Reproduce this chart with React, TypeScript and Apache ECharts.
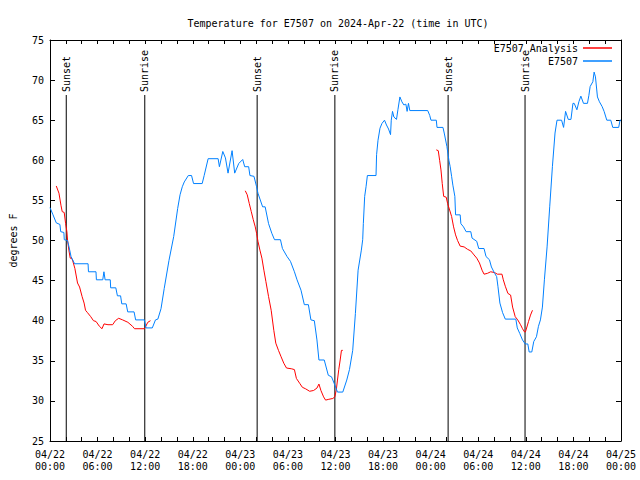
import React, { useEffect, useRef } from "react";
import * as echarts from "echarts";

const FONT = "DejaVu Sans Mono";

const titleText = "Temperature for E7507 on 2024-Apr-22 (time in UTC)";
const yAxisName = "degrees F";

// x values are hours since 2024-04-22 00:00 UTC
const xTickLabels = [
  "04/22\n00:00", "04/22\n06:00", "04/22\n12:00", "04/22\n18:00",
  "04/23\n00:00", "04/23\n06:00", "04/23\n12:00", "04/23\n18:00",
  "04/24\n00:00", "04/24\n06:00", "04/24\n12:00", "04/24\n18:00",
  "04/25\n00:00",
];

const sunHours = [2.05, 11.95, 26.12, 35.92, 50.2, 59.9];
const sunNames = ["Sunset", "Sunrise", "Sunset", "Sunrise", "Sunset", "Sunrise"];

const observed: number[][] = [
  [0.0, 54.1], [0.38, 53.2], [0.79, 52.2], [1.25, 52.0], [1.35, 51.1], [1.75, 51.0],
  [1.8, 50.1], [2.2, 50.0], [2.4, 49.2], [2.65, 48.0], [3.1, 47.1], [4.8, 47.1],
  [4.85, 46.1], [5.8, 46.1], [5.85, 45.1], [6.65, 45.1], [6.8, 46.1], [6.95, 45.1],
  [7.6, 45.1], [7.65, 44.1], [8.3, 44.1], [8.5, 43.1], [8.9, 43.1], [9.05, 42.1],
  [9.6, 42.1], [9.8, 41.1], [10.6, 41.1], [10.8, 40.1], [11.9, 40.1], [12.1, 39.1],
  [12.9, 39.1], [13.3, 40.1], [13.6, 40.2], [14.0, 41.5], [14.4, 44.0], [15.0, 47.5],
  [15.6, 50.5], [16.1, 54.0], [16.4, 55.7], [16.68, 56.7], [16.93, 57.3], [17.44, 58.1],
  [17.85, 58.1], [18.1, 57.1], [19.19, 57.1], [19.44, 58.1], [19.94, 60.2], [21.2, 60.2],
  [21.36, 59.2], [21.79, 61.1], [22.12, 60.3], [22.45, 58.4], [22.96, 61.2], [23.29, 58.4],
  [23.8, 59.6], [24.3, 60.1], [24.55, 59.2], [25.05, 59.2], [25.21, 58.1], [25.72, 58.0],
  [26.05, 56.7], [26.22, 55.9], [26.81, 54.2], [27.13, 54.2], [27.56, 52.1], [27.97, 50.9],
  [28.31, 50.1], [29.06, 50.1], [29.31, 49.0], [29.89, 48.0], [30.32, 47.4], [30.82, 46.1],
  [31.15, 45.1], [31.65, 43.8], [32.07, 42.0], [32.58, 42.0], [32.9, 40.1], [33.33, 40.0],
  [33.66, 37.6], [33.91, 35.1], [34.58, 35.1], [35.09, 33.2], [35.5, 33.0], [35.91, 32.0],
  [36.25, 31.1], [36.92, 31.1], [37.42, 32.6], [37.76, 33.9], [38.17, 36.3], [38.51, 40.9],
  [38.85, 46.3], [39.26, 48.8], [39.43, 50.1], [39.51, 52.1], [39.68, 55.5], [39.85, 56.7],
  [40.02, 58.1], [41.11, 58.1], [41.18, 60.7], [41.36, 62.5], [41.61, 64.0], [41.86, 64.6],
  [42.18, 65.0], [42.43, 64.4], [42.69, 63.9], [42.94, 63.2], [43.03, 65.0], [43.19, 66.1],
  [43.36, 65.4], [43.69, 65.1], [43.87, 66.3], [44.12, 67.9], [44.37, 67.3], [44.62, 66.9],
  [44.87, 67.0], [45.03, 66.1], [45.2, 67.1], [45.37, 66.2], [47.63, 66.2], [47.88, 65.6],
  [48.04, 65.0], [48.71, 65.0], [48.8, 64.1], [49.55, 64.1], [49.71, 63.4], [50.05, 61.7],
  [50.3, 60.0], [50.46, 59.2], [50.64, 58.0], [50.8, 56.9], [51.05, 55.5], [51.14, 53.2],
  [51.72, 53.2], [51.81, 52.1], [52.14, 51.7], [52.47, 51.1], [53.06, 51.1], [53.22, 50.3],
  [53.81, 49.9], [54.06, 49.0], [54.73, 49.0], [54.98, 48.0], [55.41, 47.6], [55.66, 46.7],
  [56.07, 45.9], [56.32, 45.5], [56.48, 44.3], [56.73, 42.2], [57.07, 41.0], [57.41, 40.2],
  [58.74, 40.2], [58.92, 39.1], [59.24, 38.4], [59.58, 37.6], [59.92, 37.1], [60.25, 37.1],
  [60.42, 36.1], [60.75, 36.1], [61.0, 37.4], [61.34, 38.0], [61.59, 39.3], [61.84, 40.1],
  [62.09, 41.7], [62.34, 45.1], [62.68, 49.2], [63.01, 54.2], [63.35, 59.2], [63.68, 63.4],
  [63.93, 65.0], [64.51, 65.0], [64.76, 64.1], [65.01, 66.1], [65.35, 65.1], [65.69, 65.1],
  [65.94, 67.1], [66.1, 67.1], [66.44, 66.3], [66.69, 67.3], [66.94, 68.0], [67.27, 67.1],
  [67.77, 67.1], [67.95, 68.1], [68.11, 69.2], [68.45, 69.8], [68.61, 71.0], [68.78, 70.4],
  [69.03, 67.9], [69.28, 67.3], [69.62, 66.7], [69.87, 66.1], [70.21, 65.0], [70.71, 65.0],
  [70.96, 64.1], [71.71, 64.1], [71.88, 65.0], [72.0, 65.0],
];

const analysis1: number[][] = [
  [0.79, 56.8], [1.13, 55.9], [1.38, 54.4], [1.54, 53.6], [1.79, 53.5], [1.97, 52.1],
  [2.13, 51.1], [2.22, 50.0], [2.38, 48.8], [2.55, 47.8], [2.8, 47.7], [3.14, 46.5],
  [3.47, 44.7], [3.73, 44.2], [4.05, 43.0], [4.3, 42.2], [4.48, 41.3], [4.73, 41.0],
  [5.14, 40.5], [5.48, 40.0], [5.81, 39.9], [6.23, 39.3], [6.56, 39.0], [6.81, 39.6],
  [7.31, 39.5], [7.9, 39.5], [8.24, 40.0], [8.66, 40.3], [9.16, 40.1], [9.82, 39.8],
  [10.41, 39.3], [10.66, 39.0], [11.92, 39.0], [12.33, 39.8], [12.67, 40.0],
];

const analysis2: number[][] = [
  [24.62, 56.2], [24.87, 55.7], [25.13, 54.6], [25.38, 53.6], [25.63, 52.6], [25.88, 51.7],
  [26.05, 50.9], [26.22, 49.9], [26.47, 48.8], [26.72, 47.8], [26.97, 46.3], [27.22, 44.9],
  [27.56, 43.0], [27.89, 41.3], [28.22, 38.8], [28.47, 37.2], [28.81, 36.3], [29.14, 35.5],
  [29.48, 34.7], [29.82, 34.1], [30.48, 34.0], [30.82, 33.9], [31.07, 32.8], [31.48, 32.2],
  [31.82, 31.7], [32.24, 31.5], [32.74, 31.2], [33.24, 31.3], [33.66, 31.6], [33.91, 32.1],
  [34.16, 31.3], [34.5, 30.5], [34.75, 30.1], [35.16, 30.2], [35.66, 30.3], [35.91, 30.5],
  [36.09, 31.3], [36.25, 32.6], [36.41, 33.9], [36.59, 35.1], [36.75, 36.3], [36.92, 36.3],
];

const analysis3: number[][] = [
  [48.71, 61.3], [48.96, 61.2], [49.13, 60.0], [49.3, 58.8], [49.46, 57.1], [49.64, 55.5],
  [49.96, 55.4], [50.14, 54.6], [50.39, 53.8], [50.64, 53.0], [50.89, 51.7], [51.14, 50.7],
  [51.39, 50.0], [51.72, 49.3], [52.22, 49.2], [52.65, 48.9], [53.06, 48.7], [53.47, 48.2],
  [53.81, 47.8], [54.15, 47.2], [54.48, 46.3], [54.73, 45.8], [55.15, 45.9], [55.57, 46.1],
  [56.07, 46.0], [56.41, 45.8], [56.99, 45.8], [57.16, 45.1], [57.41, 44.3], [57.74, 43.4],
  [58.08, 43.2], [58.33, 41.7], [58.66, 40.5], [58.98, 40.1], [59.33, 39.5], [59.58, 39.0],
  [59.83, 38.6], [59.95, 38.6], [60.34, 39.9], [60.59, 40.7], [60.84, 41.3],
];

export default function App() {
  const ref = useRef<HTMLDivElement>(null);

  useEffect(() => {
    if (!ref.current) return;
    const chart = echarts.init(ref.current, null, { renderer: "svg" });
    const txt = { fontFamily: FONT, fontSize: 10, color: "#000" };
    const axisCommonX = {
      type: "value",
      min: 0,
      max: 72,
      interval: 2,
      splitLine: { show: false },
      axisLine: { show: true, onZero: false, lineStyle: { color: "#000", width: 1 } },
      axisTick: { show: true, inside: true, length: 4, lineStyle: { color: "#000" } },
    };
    const axisCommonY = {
      type: "value",
      min: 25,
      max: 75,
      interval: 5,
      splitLine: { show: false },
      axisLine: { show: true, onZero: false, lineStyle: { color: "#000", width: 1 } },
      axisTick: { show: true, inside: true, length: 5, lineStyle: { color: "#000" } },
    };
    const redLine = (data: number[][]) => ({
      type: "line",
      name: "E7507 Analysis",
      data,
      showSymbol: false,
      symbol: "none",
      color: "#ff0000",
      lineStyle: { color: "#ff0000", width: 1 },
      z: 3,
    });
    chart.setOption({
      animation: false,
      backgroundColor: "#fff",
      title: {
        text: titleText,
        left: 333,
        textAlign: "center",
        top: 13,
        textStyle: { ...txt, fontWeight: "normal" },
      },
      legend: [
        {
          data: ["E7507 Analysis"],
          right: 28,
          top: 43,
          padding: 0,
          align: "right",
          icon: "rect",
          itemWidth: 29,
          itemHeight: 1.5,
          textStyle: txt,
        },
        {
          data: ["E7507"],
          right: 28,
          top: 56,
          padding: 0,
          align: "right",
          icon: "rect",
          itemWidth: 29,
          itemHeight: 1.5,
          textStyle: txt,
        },
      ],
      grid: { left: 47, right: 19, top: 40, bottom: 39, containLabel: false },
      xAxis: [
        {
          ...axisCommonX,
          position: "bottom",
          axisLabel: {
            ...txt,
            margin: 7,
            lineHeight: 12.5,
            showMinLabel: true,
            showMaxLabel: true,
            formatter: (v: number) => (v % 6 === 0 ? xTickLabels[v / 6] : ""),
          },
        },
        { ...axisCommonX, position: "top", axisLabel: { show: false } },
      ],
      yAxis: [
        {
          ...axisCommonY,
          position: "left",
          name: yAxisName,
          nameLocation: "middle",
          nameRotate: 90,
          nameGap: 32,
          nameTextStyle: txt,
          axisLabel: { ...txt, margin: 6 },
        },
        { ...axisCommonY, position: "right", axisLabel: { show: false } },
      ],
      series: [
        {
          type: "custom",
          name: "sun",
          xAxisIndex: 0,
          yAxisIndex: 0,
          data: sunHours.map((h, i) => [h, i]),
          z: 1,
          clip: false,
          renderItem: (params: any, api: any) => {
            const h = api.value(0);
            const idx = api.value(1);
            const bottom = api.coord([h, 25]);
            const top = api.coord([h, 75]);
            const lineTop = top[1] + 55;
            return {
              type: "group",
              children: [
                {
                  type: "line",
                  shape: { x1: bottom[0], y1: bottom[1], x2: bottom[0], y2: lineTop },
                  style: { stroke: "#000", lineWidth: 1 },
                },
                {
                  type: "text",
                  x: bottom[0],
                  y: lineTop - 3,
                  rotation: Math.PI / 2,
                  style: {
                    text: sunNames[idx],
                    fontFamily: FONT,
                    fontSize: 10,
                    fill: "#000",
                    align: "left",
                    verticalAlign: "middle",
                  },
                },
              ],
            };
          },
        },
        redLine(analysis1),
        redLine(analysis2),
        redLine(analysis3),
        {
          type: "line",
          name: "E7507",
          data: observed,
          showSymbol: false,
          symbol: "none",
          color: "#0080ff",
          lineStyle: { color: "#0080ff", width: 1 },
          z: 4,
        },
      ],
    });
    return () => chart.dispose();
  }, []);

  return (
    <div
      ref={ref}
      style={{ position: "fixed", left: 0, top: 0, width: 640, height: 480, background: "#fff" }}
    />
  );
}
